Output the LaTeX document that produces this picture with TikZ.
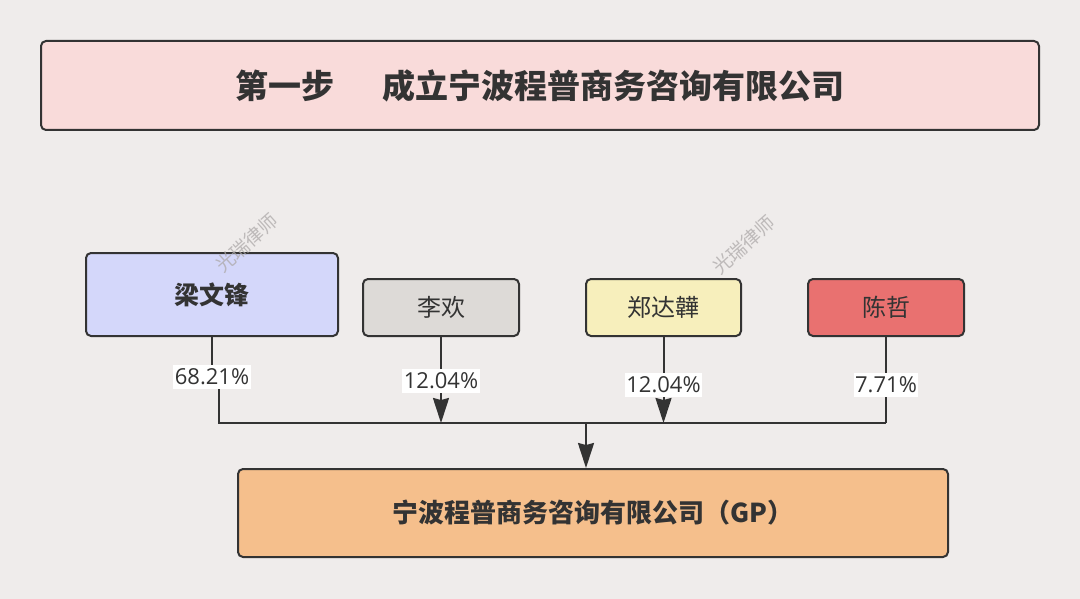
\documentclass[tikz,border=0pt]{standalone}
\usepackage{fontspec}
\newfontfamily\cjk{Noto Sans CJK SC}
\newfontfamily\lat{Open Sans}
\usetikzlibrary{arrows.meta}
\definecolor{bgc}{HTML}{EFECEB}
\definecolor{ink}{HTML}{333333}
\definecolor{titlefill}{HTML}{F9DBDA}
\definecolor{liangfill}{HTML}{D4D7FA}
\definecolor{lifill}{HTML}{DDDAD7}
\definecolor{zhengfill}{HTML}{F7EFBC}
\definecolor{chenfill}{HTML}{E97170}
\definecolor{gpfill}{HTML}{F5BF8C}
\definecolor{wm}{HTML}{ADA9A9}
\tikzset{
  box/.style={draw=ink, line width=2pt, rounded corners=5pt, inner sep=0pt, text=ink, font=\cjk\fontsize{24}{28}\selectfont},
  bbox/.style={box, font=\cjk\bfseries\fontsize{25}{29}\selectfont},
  conn/.style={draw=ink, line width=2pt},
  arr/.style={-{Stealth[length=25pt,width=16pt,inset=2pt]}},
  pct/.style={fill=white, inner xsep=1.5pt, inner ysep=4pt, text=ink, font=\lat\fontsize{22}{26}\selectfont},
  wmark/.style={text=wm, opacity=0.75, rotate=42, font=\cjk\fontsize{19}{22}\selectfont}
}
\begin{document}
\begin{tikzpicture}[x=1pt,y=-1pt]
\fill[bgc] (0,0) rectangle (1080,599);
\useasboundingbox (0,0) rectangle (1080,599);

\node[bbox, fill=titlefill, minimum width=998pt, minimum height=89pt, font=\cjk\bfseries\fontsize{33}{37}\selectfont] (title) at (540,85.5) {第一步\hspace{48pt}成立宁波程普商务咨询有限公司};

\node[bbox, fill=liangfill, minimum width=252pt, minimum height=83pt] (liang) at (212,294.5) {梁文锋};
\node[box, fill=lifill, minimum width=156pt, minimum height=57pt] (li) at (441,307.5) {李欢};
\node[box, fill=zhengfill, minimum width=155pt, minimum height=57pt] (zheng) at (663.5,307.5) {郑达韡};
\node[box, fill=chenfill, minimum width=156pt, minimum height=57pt] (chen) at (886,307.5) {陈哲};

\node[bbox, fill=gpfill, minimum width=710pt, minimum height=88pt, font=\cjk\bfseries\fontsize{26}{30}\selectfont] (gp) at (593,513) {宁波程普商务咨询有限公司（GP）};

\coordinate (b1) at (219,423);
\coordinate (b4) at (886,423);
\coordinate (m) at (586,423);

\draw[conn] (liang.south) -- (212,377) -| (b1) -- (b4);
\draw[conn] (chen.south) -- (b4);
\draw[conn, arr] (li.south) -- (li.south |- b1);
\draw[conn, arr] (zheng.south) -- (zheng.south |- b1);
\draw[conn, arr] (m) -- (gp.north -| m);

\node[pct] (lab1) at (212,377) {68.21\%};
\node[pct] (lab2) at (441,381) {12.04\%};
\node[pct] (lab3) at (663.5,385) {12.04\%};
\node[pct] (lab4) at (886,385) {7.71\%};

\node[wmark] (wm1) at (247,243) {光瑞律师};
\node[wmark] (wm2) at (744,245) {光瑞律师};
\end{tikzpicture}
\end{document}
